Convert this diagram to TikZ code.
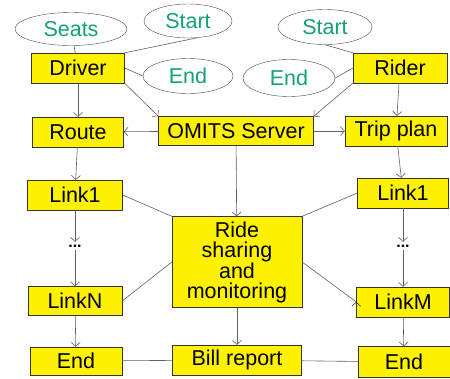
\documentclass[tikz,border=0pt]{standalone}
\usepackage{fontspec}
\setmainfont{Liberation Sans}
\usetikzlibrary{shapes.geometric, positioning, arrows.meta}
\definecolor{ovaltext}{RGB}{20,160,120}
\definecolor{linegray}{RGB}{95,95,95}
\tikzset{
->, % edges are directed unless said otherwise
>={Straight Barb[length=4pt, width=9pt]}, % thin open arrow heads
box/.style={draw=black!80, fill=yellow, minimum width=93pt, minimum height=30pt, inner sep=1pt, font=\fontsize{21.5}{20}\selectfont, align=center},
oval/.style={ellipse, draw=black!70, text=ovaltext, inner sep=0pt, font=\fontsize{21.5}{20}\selectfont},
every edge/.style={draw=linegray, semithick},
}
\begin{document}
\begin{tikzpicture}[x=1pt, y=-1pt]
    \useasboundingbox (0,0) rectangle (450,378);
    % ovals on top
    \node[oval, minimum width=112pt, minimum height=33pt] (seats) at (71,29) {Seats};
    \node[oval, minimum width=88pt, minimum height=34pt] (startD) at (188,21) {Start};
    \node[oval, minimum width=90pt, minimum height=35pt] (endD) at (188,76) {End};
    \node[oval, minimum width=94pt, minimum height=35pt] (startR) at (325,27) {Start};
    \node[oval, minimum width=92pt, minimum height=37pt] (endR) at (289,78) {End};
    % boxes
    \node[box] (driver) at (78,68) {Driver};
    \node[box, minimum width=94pt] (rider) at (400,68) {Rider};
    \node[box, minimum width=91pt] (route) at (78,132) {Route};
    \node[box, minimum width=155pt, minimum height=29pt] (omits) at (236,131) {OMITS Server};
    \node[box, minimum width=102pt] (trip) at (396,131) {Trip plan};
    \node[box, minimum width=95pt] (linkD) at (75,195) {Link1};
    \node[box, minimum width=91pt] (linkR) at (403,193) {Link1};
    \node[box, minimum width=130pt, minimum height=91pt] (ride) at (237,262) {Ride\\sharing\\and\\monitoring};
    \node[inner sep=0pt, minimum height=8pt, font=\fontsize{16}{16}\selectfont\bfseries] (dotsD) at (75,246) {...};
    \node[inner sep=0pt, minimum height=8pt, font=\fontsize{16}{16}\selectfont\bfseries] (dotsR) at (403,246) {...};
    \node[box, minimum width=94pt, minimum height=29pt] (linkN) at (75,301) {LinkN};
    \node[box] (linkM) at (403,302) {LinkM};
    \node[box, minimum width=92pt, minimum height=28pt] (endL) at (76,361) {End};
    \node[box, minimum width=129pt] (bill) at (237,360) {Bill report};
    \node[box, minimum width=92pt, minimum height=31pt] (endRt) at (404,362) {End};
    \draw
    (seats) edge[-] (driver)
    (startD.-62) edge[-] (driver.north east)
    (endD.west) edge[-] (driver.east)
    (startR.south) edge[-] (rider.north west)
    (endR.east) edge[-] (rider.west)
    (driver.south east) edge (omits.north west)
    (rider.south west) edge (omits.north east)
    (driver) edge (route)
    (rider) edge (trip)
    (omits) edge (route)
    (omits) edge (trip)
    (omits) edge (ride)
    (route) edge (linkD)
    (trip) edge (linkR)
    (linkD) edge (dotsD)
    (dotsD) edge (linkN)
    (linkN) edge (endL)
    (linkR) edge (dotsR)
    (dotsR) edge (linkM)
    (linkM) edge (endRt)
    (linkD.east) edge[-] (ride.north west)
    (linkN.east) edge[-] (ride.west)
    (linkR.west) edge[-] (ride.north east)
    (linkM.west) edge[-] (ride.east)
    (ride) edge (bill)
    (endL) edge[-] (bill)
    (bill) edge[-] (endRt);
\end{tikzpicture}
\end{document}
